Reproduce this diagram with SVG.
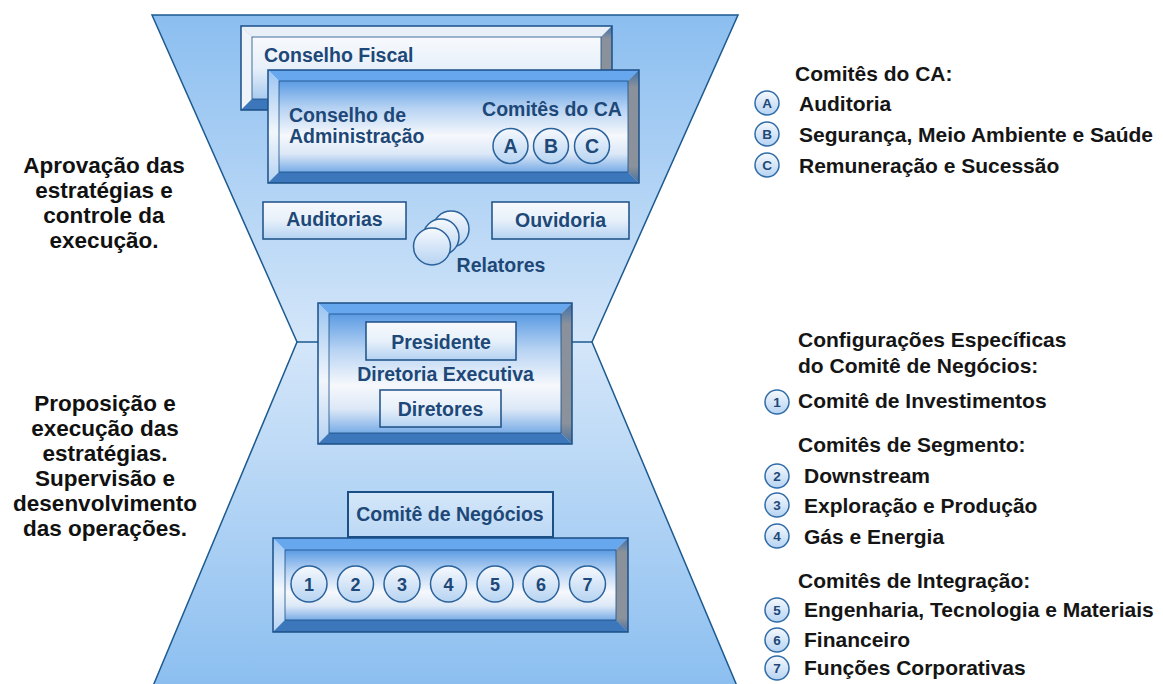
<svg xmlns="http://www.w3.org/2000/svg" width="1163" height="684" viewBox="0 0 1163 684">
<defs>
<linearGradient id="gHour" gradientUnits="userSpaceOnUse" x1="0" y1="15" x2="0" y2="684">
<stop offset="0" stop-color="#8bbef0"/><stop offset="0.49" stop-color="#d4e6f9"/><stop offset="1" stop-color="#8cbff0"/>
</linearGradient>
<linearGradient id="gFace" x1="0" y1="0" x2="0" y2="1">
<stop offset="0" stop-color="#5b9be3"/><stop offset="0.3" stop-color="#b7d3f3"/><stop offset="0.6" stop-color="#f6f8fc"/><stop offset="0.8" stop-color="#dce8f7"/><stop offset="1" stop-color="#78ace7"/>
</linearGradient>
<linearGradient id="gLeft" x1="0" y1="0" x2="0" y2="1">
<stop offset="0" stop-color="#9ac4f1"/><stop offset="0.55" stop-color="#f2f6fc"/><stop offset="1" stop-color="#b5d2f2"/>
</linearGradient>
<linearGradient id="gRight" x1="0" y1="0" x2="0" y2="1">
<stop offset="0" stop-color="#3d6fa8"/><stop offset="0.15" stop-color="#8a919b"/><stop offset="0.85" stop-color="#8c929b"/><stop offset="1" stop-color="#4a6f9c"/>
</linearGradient>
<linearGradient id="gCF" x1="0" y1="0" x2="0" y2="1">
<stop offset="0" stop-color="#f7f9fd"/><stop offset="0.5" stop-color="#e8f0fa"/><stop offset="1" stop-color="#a9cbef"/>
</linearGradient>
<linearGradient id="gSmall" x1="0" y1="0" x2="0" y2="1">
<stop offset="0" stop-color="#f7f9fd"/><stop offset="0.5" stop-color="#e7f0fa"/><stop offset="1" stop-color="#b4d2f2"/>
</linearGradient>
<linearGradient id="gCirc" x1="0" y1="0" x2="0" y2="1">
<stop offset="0" stop-color="#f6f9fd"/><stop offset="1" stop-color="#b6d3f2"/>
</linearGradient>
<linearGradient id="gNeg" x1="0" y1="0" x2="0" y2="1">
<stop offset="0" stop-color="#d5e7f9"/><stop offset="1" stop-color="#bcd8f5"/>
</linearGradient>
</defs>
<style>
.hg{fill:url(#gHour);stroke:#1d5a8f;stroke-width:1.5}
.ln{stroke:#1d5a8f;stroke-width:1.5;fill:none}
.bt{fill:#67a7ee}
.bl{fill:url(#gLeft)}
.br{fill:url(#gRight)}
.bb{fill:#3c77bb}
.face{fill:url(#gFace)}
.out{fill:none;stroke:#1b4f86;stroke-width:1.5}
.inl{fill:none;stroke:#1b4f86;stroke-width:0.8}
.sm{fill:url(#gSmall);stroke:#1b4f86;stroke-width:1.5}
.ci{fill:url(#gCirc);stroke:#2a629b;stroke-width:1.5}
.bx{font-family:"Liberation Sans",Arial,sans-serif;font-weight:bold;font-size:19.5px;fill:#1d4877}
.num{font-family:"Liberation Sans",Arial,sans-serif;font-weight:bold;font-size:18px;fill:#1d4877;text-anchor:middle}
.lt{font-family:"Liberation Sans",Arial,sans-serif;font-weight:bold;font-size:22.5px;fill:#111;text-anchor:middle}
.lg{font-family:"Liberation Sans",Arial,sans-serif;font-weight:bold;font-size:21px;fill:#151515}
.lc{fill:url(#gCirc);stroke:#2f6ca8;stroke-width:1.5}
.ln2{font-family:"Liberation Sans",Arial,sans-serif;font-weight:bold;font-size:13.5px;fill:#1d4877;text-anchor:middle}
.mid{text-anchor:middle}
</style>

<g id="hourglass">
<polygon class="hg" points="152,15 738,15 592,342 737,686 153,686 297,342"/>
</g>

<g id="connectors">
<line class="ln" x1="297" y1="342" x2="318" y2="342"/>
<line class="ln" x1="572" y1="342" x2="592" y2="342"/>
</g>

<g id="conselho-fiscal">
<polygon fill="#e9eff7" points="241,26 612,26 601,37 252,37"/>
<polygon fill="#eef3fa" points="241,26 252,37 252,99 241,110"/>
<polygon class="br" points="612,26 612,110 601,99 601,37"/>
<polygon class="bb" points="241,110 252,99 601,99 612,110"/>
<rect x="252" y="37" width="349" height="62" fill="url(#gCF)"/>
<rect class="inl" x="252" y="37" width="349" height="62"/>
<rect class="out" x="241" y="26" width="371" height="84"/>
<text class="bx" x="264" y="62">Conselho Fiscal</text>
</g>

<g id="conselho-administracao">
<polygon class="bt" points="268,70 639,70 628,81 279,81"/>
<polygon class="bl" points="268,70 279,81 279,172 268,183"/>
<polygon class="br" points="639,70 639,183 628,172 628,81"/>
<polygon class="bb" points="268,183 279,172 628,172 639,183"/>
<rect class="face" x="279" y="81" width="349" height="91"/>
<rect class="inl" x="279" y="81" width="349" height="91"/>
<rect class="out" x="268" y="70" width="371" height="113"/>
<text class="bx" x="289" y="122">Conselho de</text>
<text class="bx" x="289" y="143">Administração</text>
<text class="bx mid" x="552" y="116">Comitês do CA</text>
<circle class="ci" cx="510.5" cy="146" r="17.5"/>
<circle class="ci" cx="551" cy="146" r="17.5"/>
<circle class="ci" cx="592" cy="146" r="17.5"/>
<text class="bx mid" x="510.5" y="153">A</text>
<text class="bx mid" x="551" y="153">B</text>
<text class="bx mid" x="592" y="153">C</text>
</g>

<g id="auditorias">
<rect class="sm" x="263" y="202" width="143" height="37"/>
<text class="bx mid" x="334.5" y="226">Auditorias</text>
</g>

<g id="ouvidoria">
<rect class="sm" x="492" y="202" width="137" height="37"/>
<text class="bx mid" x="560.5" y="227">Ouvidoria</text>
</g>

<g id="relatores">
<circle class="ci" cx="451" cy="229" r="18"/>
<circle class="ci" cx="441" cy="237" r="18"/>
<circle class="ci" cx="432" cy="246.5" r="18.5"/>
<text class="bx mid" x="501" y="272">Relatores</text>
</g>

<g id="diretoria-executiva">
<polygon class="bt" points="318,303 572,303 561,314 329,314"/>
<polygon class="bl" points="318,303 329,314 329,433 318,444"/>
<polygon class="br" points="572,303 572,444 561,433 561,314"/>
<polygon class="bb" points="318,444 329,433 561,433 572,444"/>
<rect class="face" x="329" y="314" width="232" height="119"/>
<rect class="inl" x="329" y="314" width="232" height="119"/>
<rect class="out" x="318" y="303" width="254" height="141"/>
<text class="bx mid" x="445.5" y="381">Diretoria Executiva</text>
</g>

<g id="presidente">
<rect class="sm" x="366" y="322" width="150" height="38"/>
<text class="bx mid" x="441" y="349">Presidente</text>
</g>

<g id="diretores">
<rect class="sm" x="380" y="390" width="121" height="37"/>
<text class="bx mid" x="440.5" y="416">Diretores</text>
</g>

<g id="comite-negocios">
<rect x="348" y="492" width="205" height="45" fill="url(#gNeg)" stroke="#1b4f86" stroke-width="2"/>
<text class="bx mid" x="450" y="521">Comitê de Negócios</text>
</g>

<g id="comites-numerados">
<polygon class="bt" points="273,538 628,538 616,550 285,550"/>
<polygon class="bl" points="273,538 285,550 285,620 273,632"/>
<polygon class="br" points="628,538 628,632 616,620 616,550"/>
<polygon class="bb" points="273,632 285,620 616,620 628,632"/>
<rect class="face" x="285" y="550" width="331" height="70"/>
<rect class="inl" x="285" y="550" width="331" height="70"/>
<rect class="out" x="273" y="538" width="355" height="94"/>
<circle class="ci" cx="309" cy="584" r="18"/>
<circle class="ci" cx="355.5" cy="584" r="18"/>
<circle class="ci" cx="402" cy="584" r="18"/>
<circle class="ci" cx="448.5" cy="584" r="18"/>
<circle class="ci" cx="495" cy="584" r="18"/>
<circle class="ci" cx="541" cy="584" r="18"/>
<circle class="ci" cx="587.5" cy="584" r="18"/>
<text class="num" x="309" y="590.5">1</text>
<text class="num" x="355.5" y="590.5">2</text>
<text class="num" x="402" y="590.5">3</text>
<text class="num" x="448.5" y="590.5">4</text>
<text class="num" x="495" y="590.5">5</text>
<text class="num" x="541" y="590.5">6</text>
<text class="num" x="587.5" y="590.5">7</text>
</g>

<g id="texto-aprovacao">
<text class="lt" x="104" y="173">Aprovação das</text>
<text class="lt" x="104" y="198">estratégias e</text>
<text class="lt" x="104" y="223">controle da</text>
<text class="lt" x="104" y="248">execução.</text>
</g>

<g id="texto-proposicao">
<text class="lt" x="105" y="411">Proposição e</text>
<text class="lt" x="105" y="436">execução das</text>
<text class="lt" x="105" y="461">estratégias.</text>
<text class="lt" x="105" y="486">Supervisão e</text>
<text class="lt" x="105" y="511">desenvolvimento</text>
<text class="lt" x="105" y="536">das operações.</text>
</g>

<g id="legenda-ca">
<text class="lg" x="795" y="81">Comitês do CA:</text>
<circle class="lc" cx="767" cy="103" r="12"/>
<text class="ln2" x="767" y="108">A</text>
<text class="lg" x="799" y="111">Auditoria</text>
<circle class="lc" cx="767" cy="134" r="12"/>
<text class="ln2" x="767" y="139">B</text>
<text class="lg" x="799" y="142">Segurança, Meio Ambiente e Saúde</text>
<circle class="lc" cx="767" cy="165" r="12"/>
<text class="ln2" x="767" y="170">C</text>
<text class="lg" x="799" y="173">Remuneração e Sucessão</text>
</g>

<g id="legenda-negocios">
<text class="lg" x="798" y="347">Configurações Específicas</text>
<text class="lg" x="798" y="373">do Comitê de Negócios:</text>
<circle class="lc" cx="777" cy="402" r="12"/>
<text class="ln2" x="777" y="407">1</text>
<text class="lg" x="798" y="408">Comitê de Investimentos</text>
<text class="lg" x="798" y="452">Comitês de Segmento:</text>
<circle class="lc" cx="777" cy="476" r="12"/>
<text class="ln2" x="777" y="481">2</text>
<text class="lg" x="804" y="483">Downstream</text>
<circle class="lc" cx="777" cy="505" r="12"/>
<text class="ln2" x="777" y="510">3</text>
<text class="lg" x="804" y="513">Exploração e Produção</text>
<circle class="lc" cx="777" cy="536" r="12"/>
<text class="ln2" x="777" y="541">4</text>
<text class="lg" x="804" y="544">Gás e Energia</text>
<text class="lg" x="798" y="588">Comitês de Integração:</text>
<circle class="lc" cx="777" cy="610" r="12"/>
<text class="ln2" x="777" y="615">5</text>
<text class="lg" x="804" y="617">Engenharia, Tecnologia e Materiais</text>
<circle class="lc" cx="777" cy="640" r="12"/>
<text class="ln2" x="777" y="645">6</text>
<text class="lg" x="804" y="647">Financeiro</text>
<circle class="lc" cx="777" cy="668" r="12"/>
<text class="ln2" x="777" y="673">7</text>
<text class="lg" x="804" y="675">Funções Corporativas</text>
</g>
</svg>
